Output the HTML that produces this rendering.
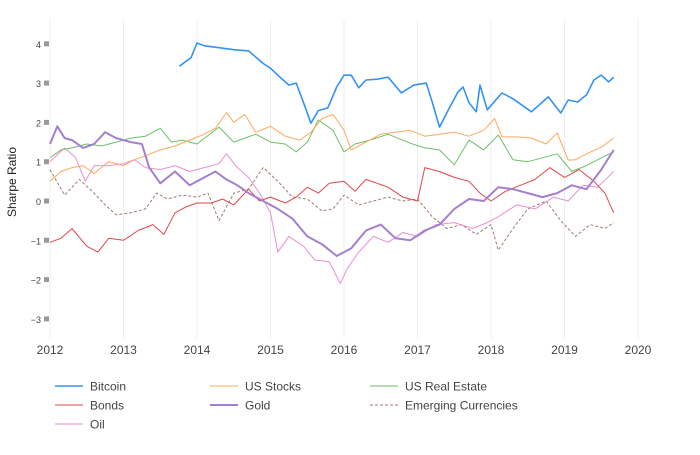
<!DOCTYPE html>
<html><head><meta charset="utf-8"><style>
body{margin:0;background:#fff;font-family:"Liberation Sans",Arial,sans-serif}
svg text{font-family:"Liberation Sans",Arial,sans-serif}
</style></head><body>
<svg id="chart" width="700" height="450">
<g id="grid"></g>
<g id="yaxis"></g>
<g id="xaxis"></g>
<text x="16" y="182" transform="rotate(-90 16 182)" text-anchor="middle" font-size="12" fill="#222">Sharpe Ratio</text>
<g id="series"></g>
<g id="legend"></g>
</svg>
<script>
const yTicks=[4,3,2,1,0,-1,-2,-3];
const xTicks=[2012,2013,2014,2015,2016,2017,2018,2019,2020];
const seriesNames=["Bitcoin","US Stocks","US Real Estate","Bonds","Gold","Emerging Currencies","Oil"];
const btcDates=[2013.76,2013.92,2014.0,2014.1,2014.3,2014.5,2014.7,2014.9,2015.0,2015.1,2015.25,2015.35,2015.45,2015.55,2015.65,2015.78,2015.9,2016.0,2016.1,2016.2,2016.3,2016.45,2016.6,2016.78,2016.95,2017.12,2017.2,2017.3,2017.42,2017.55,2017.62,2017.7,2017.8,2017.85,2017.95,2018.15,2018.3,2018.55,2018.78,2018.95,2019.05,2019.18,2019.3,2019.4,2019.5,2019.6,2019.67];
const btcValues=[3.43,3.65,4.02,3.95,3.9,3.85,3.82,3.5,3.38,3.2,2.95,3.0,2.5,1.98,2.3,2.37,2.9,3.2,3.2,2.88,3.08,3.1,3.15,2.75,2.95,3.0,2.52,1.88,2.32,2.77,2.9,2.5,2.27,2.95,2.32,2.75,2.6,2.27,2.65,2.24,2.57,2.52,2.7,3.08,3.2,3.03,3.15];
const stkDates=[2012,2012.15,2012.3,2012.45,2012.6,2012.8,2013.0,2013.15,2013.3,2013.5,2013.7,2013.9,2014.1,2014.25,2014.4,2014.5,2014.65,2014.8,2015.0,2015.2,2015.4,2015.55,2015.7,2015.85,2016.0,2016.1,2016.3,2016.5,2016.7,2016.9,2017.1,2017.3,2017.5,2017.7,2017.9,2018.05,2018.15,2018.35,2018.55,2018.75,2018.9,2019.05,2019.15,2019.3,2019.5,2019.67];
const stkValues=[0.5,0.75,0.85,0.9,0.7,1.0,0.9,1.05,1.15,1.3,1.4,1.55,1.7,1.85,2.25,2.0,2.2,1.75,1.9,1.65,1.55,1.75,2.1,2.2,1.8,1.3,1.5,1.7,1.75,1.8,1.65,1.7,1.75,1.65,1.8,2.1,1.63,1.63,1.6,1.45,1.73,1.04,1.05,1.2,1.37,1.6];
const reDates=[2012,2012.15,2012.3,2012.5,2012.7,2012.9,2013.1,2013.3,2013.5,2013.65,2013.8,2014.0,2014.3,2014.5,2014.65,2014.8,2015.0,2015.2,2015.35,2015.5,2015.65,2015.85,2016.0,2016.15,2016.35,2016.6,2016.9,2017.1,2017.3,2017.5,2017.7,2017.9,2018.1,2018.3,2018.5,2018.7,2018.9,2019.1,2019.3,2019.5,2019.67];
const reValues=[1.1,1.3,1.35,1.45,1.4,1.5,1.6,1.65,1.85,1.5,1.55,1.45,1.88,1.5,1.6,1.7,1.5,1.45,1.25,1.5,2.06,1.8,1.25,1.45,1.55,1.7,1.47,1.35,1.3,0.92,1.55,1.3,1.68,1.05,1.0,1.1,1.2,0.75,0.9,1.1,1.25];
const bondDates=[2012,2012.15,2012.3,2012.5,2012.65,2012.8,2013.0,2013.2,2013.4,2013.55,2013.7,2013.85,2014.0,2014.2,2014.35,2014.5,2014.7,2014.85,2015.0,2015.2,2015.35,2015.5,2015.65,2015.8,2016.0,2016.15,2016.3,2016.45,2016.6,2016.8,2017.0,2017.1,2017.3,2017.5,2017.7,2017.85,2018.0,2018.2,2018.4,2018.6,2018.8,2019.0,2019.2,2019.4,2019.55,2019.67];
const bondValues=[-1.05,-0.95,-0.7,-1.15,-1.3,-0.95,-1.0,-0.75,-0.6,-0.85,-0.3,-0.15,-0.05,-0.05,0.05,-0.1,0.3,0.0,0.1,-0.05,0.1,0.35,0.2,0.45,0.5,0.25,0.55,0.45,0.35,0.1,0.0,0.85,0.75,0.6,0.5,0.2,0.0,0.25,0.4,0.55,0.85,0.6,0.8,0.5,0.2,-0.3];
const goldDates=[2012,2012.1,2012.2,2012.3,2012.45,2012.6,2012.75,2012.9,2013.1,2013.25,2013.35,2013.5,2013.7,2013.9,2014.1,2014.25,2014.4,2014.55,2014.7,2014.9,2015.1,2015.3,2015.5,2015.7,2015.9,2016.1,2016.3,2016.5,2016.7,2016.9,2017.1,2017.3,2017.5,2017.7,2017.9,2018.1,2018.3,2018.5,2018.7,2018.9,2019.1,2019.3,2019.5,2019.67];
const goldValues=[1.45,1.9,1.6,1.55,1.35,1.45,1.75,1.6,1.5,1.45,0.85,0.45,0.75,0.4,0.6,0.75,0.55,0.4,0.2,0.0,-0.2,-0.45,-0.9,-1.1,-1.4,-1.2,-0.75,-0.6,-0.95,-1.0,-0.75,-0.6,-0.2,0.05,0.0,0.35,0.3,0.2,0.1,0.2,0.4,0.3,0.8,1.3];
const oilDates=[2012,2012.2,2012.35,2012.48,2012.6,2012.8,2013.0,2013.15,2013.3,2013.5,2013.7,2013.9,2014.1,2014.3,2014.4,2014.55,2014.7,2014.85,2015.0,2015.1,2015.25,2015.45,2015.6,2015.8,2015.95,2016.05,2016.2,2016.4,2016.6,2016.8,2017.0,2017.25,2017.5,2017.75,2017.95,2018.1,2018.35,2018.6,2018.85,2019.05,2019.25,2019.45,2019.67];
const oilValues=[1.0,1.35,1.1,0.5,0.9,0.9,0.95,1.05,0.85,0.8,0.9,0.75,0.85,0.95,1.2,0.85,0.6,0.2,-0.3,-1.3,-0.9,-1.15,-1.5,-1.55,-2.1,-1.7,-1.3,-0.9,-1.05,-0.8,-0.9,-0.6,-0.55,-0.7,-0.55,-0.4,-0.1,-0.2,0.1,0.0,0.4,0.35,0.75];
const emDates=[2012,2012.2,2012.4,2012.6,2012.75,2012.9,2013.1,2013.3,2013.45,2013.6,2013.8,2014.0,2014.15,2014.3,2014.5,2014.7,2014.9,2015.1,2015.3,2015.5,2015.7,2015.85,2016.0,2016.2,2016.4,2016.6,2016.8,2017.0,2017.2,2017.4,2017.6,2017.8,2018.0,2018.1,2018.3,2018.5,2018.75,2018.95,2019.15,2019.35,2019.55,2019.67];
const emValues=[0.8,0.15,0.55,0.2,-0.1,-0.35,-0.3,-0.2,0.2,0.05,0.15,0.1,0.2,-0.5,0.2,0.3,0.85,0.5,0.1,0.05,-0.25,-0.2,0.15,-0.1,0.0,0.1,0.0,0.05,-0.4,-0.7,-0.6,-0.85,-0.6,-1.25,-0.7,-0.2,0.0,-0.5,-0.9,-0.6,-0.7,-0.55];

const NS="http://www.w3.org/2000/svg";
const x0=50,pxYear=73.5,y0=201,pxUnit=39.3;
function xs(d){return x0+(d-2012)*pxYear;}
function ys(v){return y0-v*pxUnit;}
function mk(t,a,p){const e=document.createElementNS(NS,t);for(const k in a)e.setAttribute(k,a[k]);p.appendChild(e);return e;}
const grid=document.getElementById('grid'),xa=document.getElementById('xaxis'),ya=document.getElementById('yaxis');
xTicks.forEach(t=>{
  const l=mk('line',{x1:xs(t),x2:xs(t),y1:20,y2:338,stroke:'#eee','stroke-width':1},grid);
  
  
  const tx=mk('text',{x:xs(t),y:354,'text-anchor':'middle','font-size':12,fill:'#444'},xa);
  tx.textContent=t;
  
  
});
yTicks.forEach(t=>{
  const tx=mk('text',{x:41,y:ys(t)+4,'text-anchor':'end','font-size':9,fill:'#444'},ya);
  tx.textContent=t<0?'\u2212'+(-t):t;
  
  
  const r=mk('rect',{x:44,y:ys(t)-2.5,width:5,height:5,fill:'#999'},ya);
  
  
});
const ser=document.getElementById('series');
function line(d,v,color,w,dash,name){
  const pts=d.map((di,i)=>xs(di).toFixed(1)+','+ys(v[i]).toFixed(1)).join(' ');
  const p=mk('polyline',{points:pts,fill:'none',stroke:color,'stroke-width':w,'stroke-linejoin':'round'},ser);
  if(dash)p.setAttribute('stroke-dasharray',dash);
  
  
}
line(emDates,emValues,'#a07a72',1,'3,2','emerging-currencies');
line(oilDates,oilValues,'#ea8fd2',1,null,'oil');
line(bondDates,bondValues,'#e0474a',1,null,'bonds');
line(reDates,reValues,'#6fbf6a',1,null,'us-real-estate');
line(stkDates,stkValues,'#ffa85a',1,null,'us-stocks');
line(goldDates,goldValues,'#a47fcf',2,null,'gold');
line(btcDates,btcValues,'#3393f5',1.6,null,'bitcoin');

const leg=document.getElementById('legend');
const legItems=[["Bitcoin","#3393f5",55,386,null,1.6],["US Stocks","#ffa85a",210,386,null,1],["US Real Estate","#6fbf6a",370,386,null,1],["Bonds","#e0474a",55,405,null,1],["Gold","#a47fcf",210,405,null,2],["Emerging Currencies","#a07a72",370,405,"3,2",1],["Oil","#ea8fd2",55,424,null,1]];
legItems.forEach(it=>{
  const g=mk('g',{},leg);
  
  
  const l=mk('line',{x1:it[2],x2:it[2]+28,y1:it[3],y2:it[3],stroke:it[1],'stroke-width':it[5]},g);
  if(it[4])l.setAttribute('stroke-dasharray',it[4]);
  const t=mk('text',{x:it[2]+35,y:it[3]+4.5,'font-size':12,fill:'#444'},g);
  t.textContent=it[0];
});
</script>
</body></html>
